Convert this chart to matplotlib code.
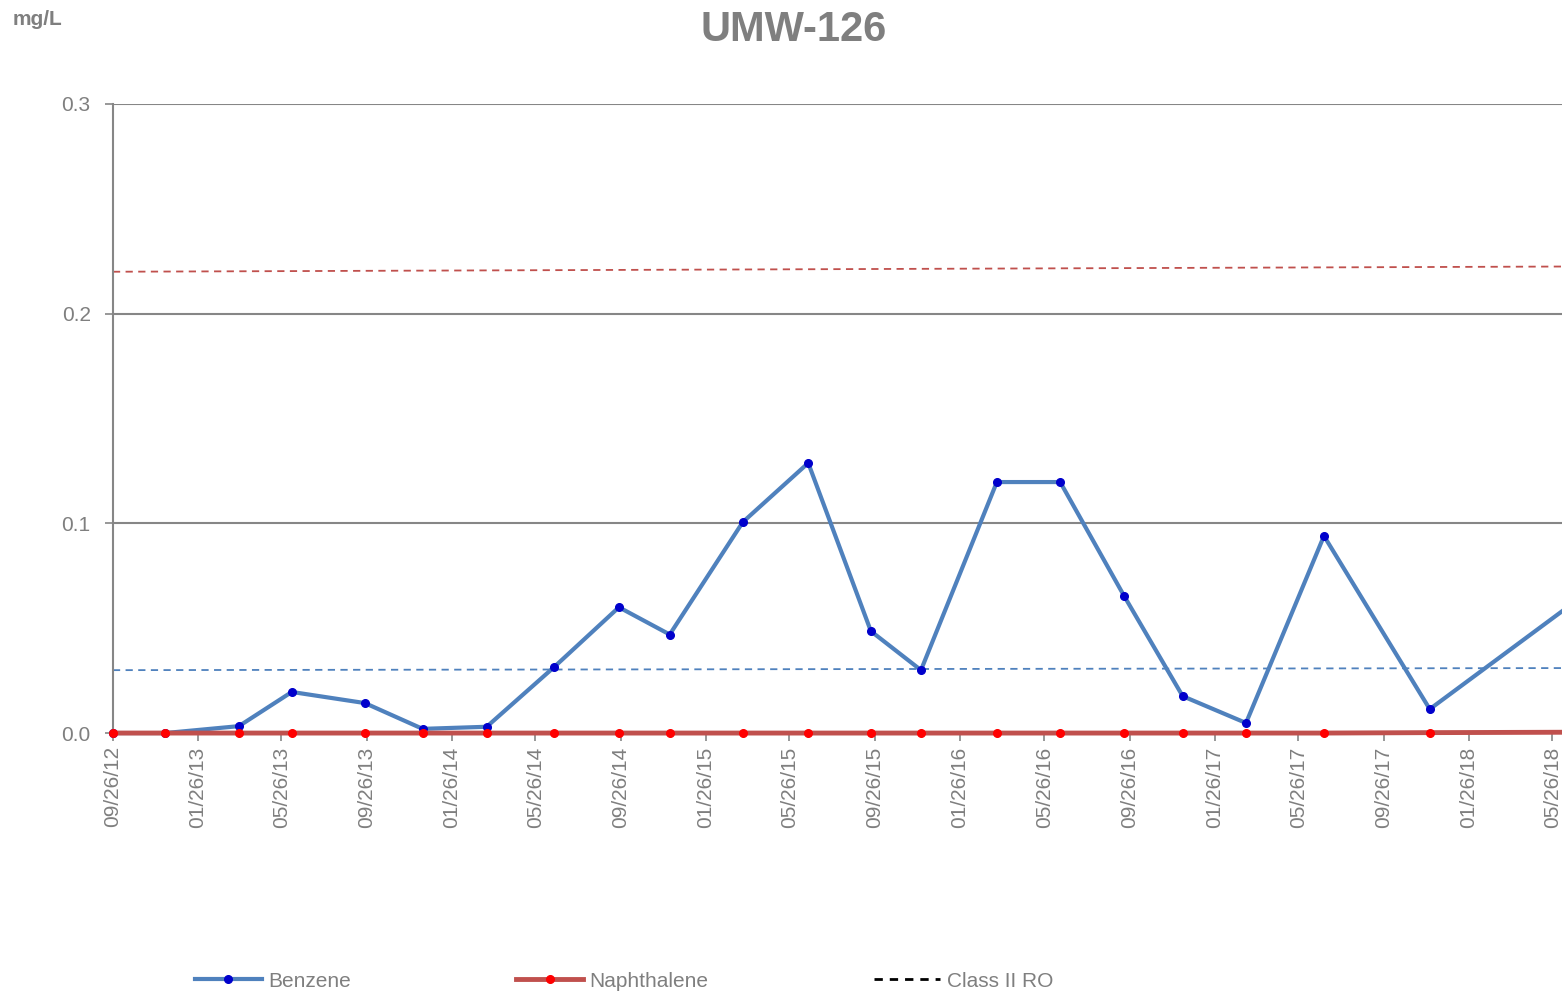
import matplotlib.pyplot as plt
import matplotlib.dates as mdates
import pandas as pd

plt.rcParams["font.family"] = ["Liberation Sans", "DejaVu Sans"]

# sample dates and concentrations (mg/L)
dates = pd.to_datetime([
    "2012-09-26", "2012-12-10", "2013-03-26", "2013-06-10", "2013-09-23",
    "2013-12-15", "2014-03-17", "2014-06-22", "2014-09-23", "2014-12-05",
    "2015-03-20", "2015-06-22", "2015-09-20", "2015-12-01", "2016-03-19",
    "2016-06-18", "2016-09-18", "2016-12-11", "2017-03-12", "2017-07-02",
    "2017-12-01", "2018-06-25",
])
benzene = [0.0, 0.0, 0.0033, 0.0196, 0.0143, 0.002, 0.003, 0.0315, 0.060, 0.047,
           0.1006, 0.1288, 0.0486, 0.030, 0.1197, 0.1197, 0.0653, 0.0176, 0.0048,
           0.094, 0.0114, 0.062]
naphthalene = [0.0] * 20 + [0.0002, 0.0004]

# Class II RO reference lines (start / end values)
ro_dates = pd.to_datetime(["2012-09-26", "2018-06-25"])
ro_benzene = [0.030, 0.031]
ro_naphthalene = [0.220, 0.2225]

tick_dates = pd.date_range("2012-09-01", "2018-05-01", freq="4MS") + pd.Timedelta(days=25)

gray = "#868686"
txt = "#7f7f7f"

fig = plt.figure(figsize=(15.62, 9.96), dpi=100)
ax = fig.add_axes([0.0723, 0.264, 0.9277, 0.6316])

ax.plot(ro_dates, ro_naphthalene, color="#C0504D", lw=1.3, ls=(0, (4, 3)))
ax.plot(ro_dates, ro_benzene, color="#4F81BD", lw=1.3, ls=(0, (4, 3)))
ax.plot(dates, benzene, color="#4F81BD", lw=3, marker="o", ms=5.5,
        mfc="#0000CC", mec="#0000CC", label="Benzene", clip_on=False, zorder=3)
ax.plot(dates, naphthalene, color="#C0504D", lw=3.5, marker="o", ms=5.5,
        mfc="#FF0000", mec="#FF0000", label="Naphthalene", clip_on=False, zorder=4)
ax.plot([], [], color="black", lw=2, ls=(0, (3, 2.5)), label="Class II RO")

ax.set_xlim(pd.Timestamp("2012-09-26"), pd.Timestamp("2018-06-09"))
ax.set_ylim(0, 0.3)
ax.set_yticks([0.0, 0.1, 0.2, 0.3])
ax.set_yticklabels(["0.0", "0.1", "0.2", "0.3"])
ax.set_xticks(tick_dates)
ax.xaxis.set_major_formatter(mdates.DateFormatter("%m/%d/%y"))
ax.grid(axis="y", color=gray, lw=1.5)
ax.set_axisbelow(True)

for s in ["top", "right", "bottom"]:
    ax.spines[s].set_visible(False)
ax.spines["left"].set_color(gray)
ax.spines["left"].set_linewidth(1.5)
ax.tick_params(axis="x", colors=gray, labelcolor=txt, labelsize=15,
               labelrotation=90, length=6, width=1.2)
ax.tick_params(axis="y", colors=gray, labelcolor=txt, labelsize=15,
               length=6, width=1.2, pad=10)

fig.text(0.508, 0.970, "UMW-126", ha="center", va="center",
         fontsize=30, fontweight="bold", color=txt)
fig.text(0.008, 0.980, "mg/L", ha="left", va="center",
         fontsize=15, fontweight="bold", color=txt)

fig.legend(loc="center", bbox_to_anchor=(0.3995, 0.015), ncol=3, frameon=False,
           fontsize=15, labelcolor=txt, handlelength=3.2, handletextpad=0.3,
           columnspacing=7.95)

fig.savefig("out.png", dpi=100)
